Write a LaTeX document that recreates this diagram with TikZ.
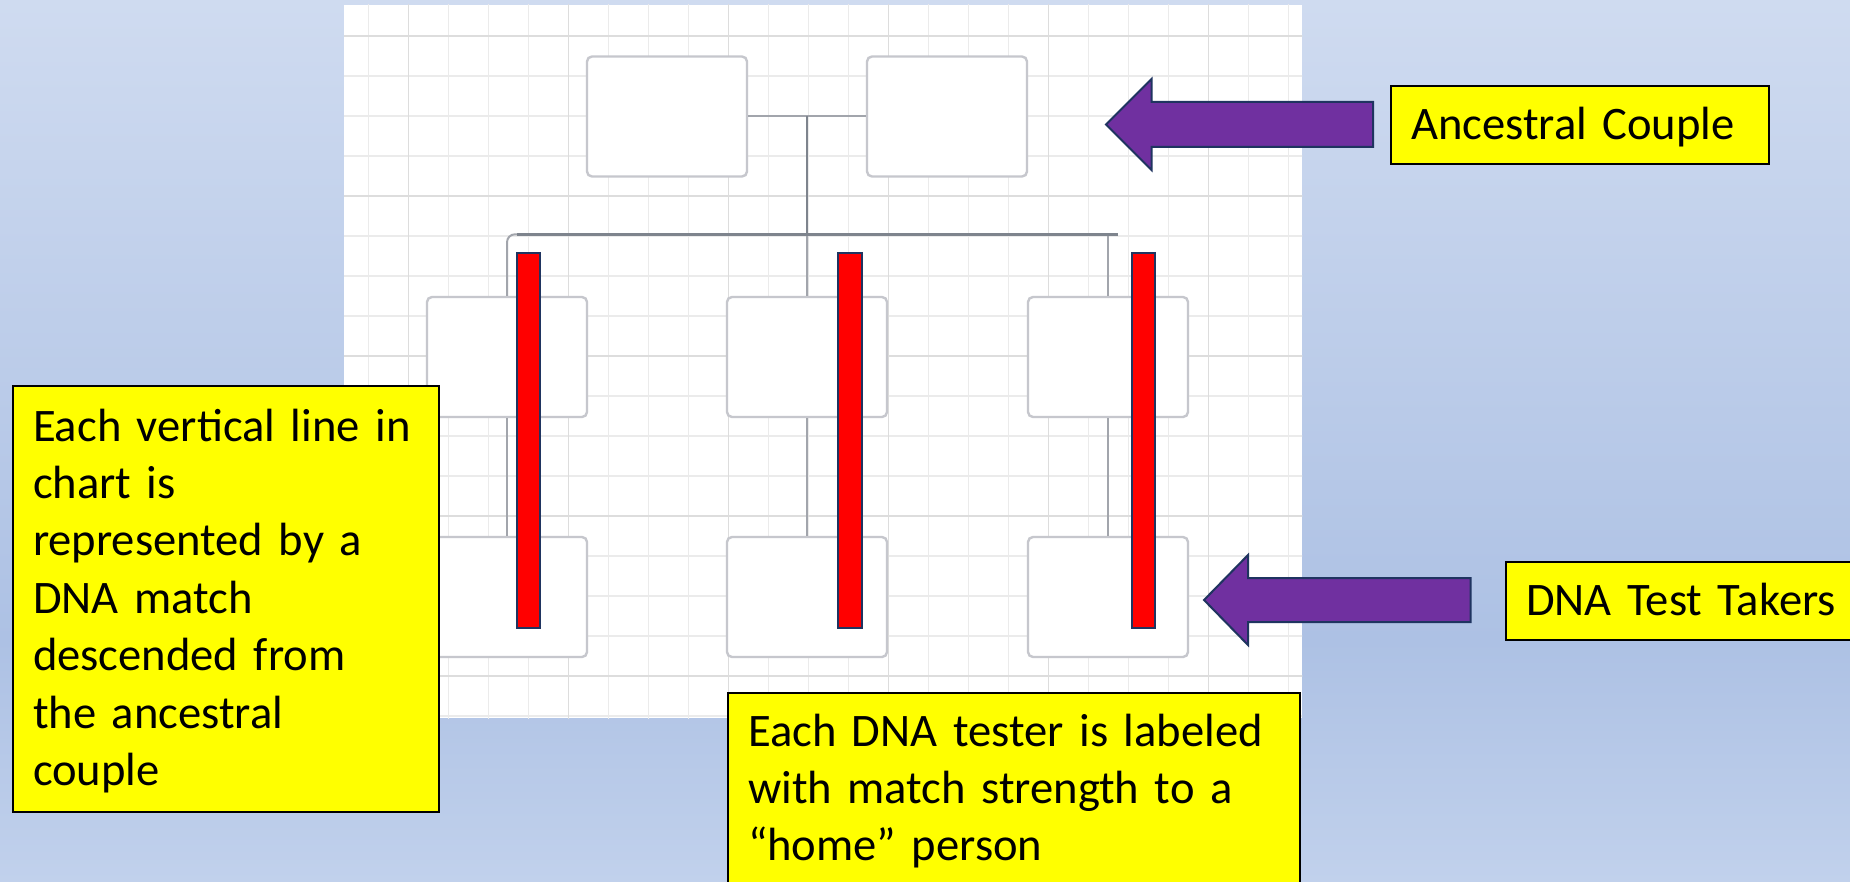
\documentclass[tikz,border=0pt]{standalone}
\usepackage{fontspec}
\setmainfont{Carlito}
\usetikzlibrary{calc,positioning}

\definecolor{cbgtop}{HTML}{CFDBF0}
\definecolor{cbgmid}{HTML}{ADC1E4}
\definecolor{cbgbot}{HTML}{C1D1EC}
\definecolor{cnote}{HTML}{FFFF00}
\definecolor{cpurple}{HTML}{7030A0}
\definecolor{cnavy}{HTML}{1F3460}
\definecolor{cboxline}{HTML}{C6C7CD}
\definecolor{clink}{HTML}{A2A5AC}
\definecolor{csib}{HTML}{7E848D}
\definecolor{cgridminor}{HTML}{EBEBEB}
\definecolor{cgridmajor}{HTML}{DDDDDD}

\tikzset{
  personbox/.style={draw=cboxline, line width=1.2pt, fill=white, rounded corners=2.5pt,
    minimum width=80pt, minimum height=60pt, inner sep=0pt},
  notebox/.style={draw=black, line width=1pt, fill=cnote, anchor=north west,
    inner xsep=10pt, inner ysep=0pt, align=left, font=\fontsize{23.3}{28.7}\selectfont},
  linkline/.style={draw=clink, line width=1pt},
  sibline/.style={draw=csib, line width=1.2pt},
  dnabar/.style={draw=cnavy, line width=1pt, fill=red},
  pointer/.style={draw=cnavy, line width=1pt, fill=cpurple, line join=miter}
}

\begin{document}
\begin{tikzpicture}[x=0.5pt,y=-0.5pt]
\clip (0,0) rectangle (1850,882);
\shade[top color=cbgtop, bottom color=cbgmid] (0,0) rectangle (1850,640);
\shade[top color=cbgmid, bottom color=cbgbot] (0,640) rectangle (1850,882);

\fill[white] (344,5) rectangle (1302,718);
\begin{scope}
\clip (344,5) rectangle (1302,718);
\draw[cgridminor, line width=0.6pt, step=20pt, shift={(8.3,-4)}] (300,-40) grid (1340,760);
\draw[cgridmajor, line width=0.8pt, step=80pt, shift={(88.3,36)}] (200,-200) grid (1340,760);
\end{scope}

\node[personbox] (anc1) at (667,116.5) {};
\node[personbox] (anc2) at (947,116.5) {};
\node[personbox] (kid1) at (507,357) {};
\node[personbox] (kid2) at (807,357) {};
\node[personbox] (kid3) at (1108,357) {};
\node[personbox] (gkid1) at (507,597) {};
\node[personbox] (gkid2) at (807,597) {};
\node[personbox] (gkid3) at (1108,597) {};

\coordinate (couple) at ($(anc1.east)!0.5!(anc2.west)$);
\coordinate (fork) at ($(couple)+(0,119)$);
\draw[linkline] (anc1.east) -- (anc2.west);
\draw[linkline, rounded corners=4pt] (kid1.north) |- ($(kid1.north)+(14,-61.5)$);
\draw[linkline] (fork) -- (kid2.north);
\draw[linkline] (kid3.north) -- ++(0,-61.5);
\draw[sibline] ($(kid1.north)+(10,-61.5)$) -- ($(kid3.north)+(10,-61.5)$);
\draw[sibline] (couple) -- (fork);
\draw[linkline] (kid1.south) -- (gkid1.north);
\draw[linkline] (kid2.south) -- (gkid2.north);
\draw[linkline] (kid3.south) -- (gkid3.north);

\draw[dnabar] (516.8,253) rectangle (540,628);
\draw[dnabar] (838,253) rectangle (861.6,628);
\draw[dnabar] (1131.7,253) rectangle (1154.5,628);

\draw[pointer] (1373,102) -- (1151.5,102) -- (1151.5,79) -- (1106,124.5) -- (1151.5,170) -- (1151.5,147) -- (1373,147) -- cycle;
\draw[pointer] (1470.5,578) -- (1248,578) -- (1248,555) -- (1204,600) -- (1248,645) -- (1248,622) -- (1470.5,622) -- cycle;

\node[notebox, text width=193pt, text height=27.5pt, text depth=185.5pt] (linenote) at (12,385)
  {Each vertical line in\\chart is\\represented by a\\DNA match\\descended from\\the ancestral\\couple};
\node[notebox, text width=169pt, text height=27pt, text depth=12pt] (couplenote) at (1390,85) {Ancestral Couple};
\node[notebox, text width=160pt, text height=26.5pt, text depth=12.5pt] (takersnote) at (1505,561) {DNA Test Takers};
\node[notebox, text width=266pt, text height=26.5pt, text depth=80pt] (testernote) at (727,692)
  {Each DNA tester is labeled\\with match strength to a\\“home” person};
\end{tikzpicture}
\end{document}
